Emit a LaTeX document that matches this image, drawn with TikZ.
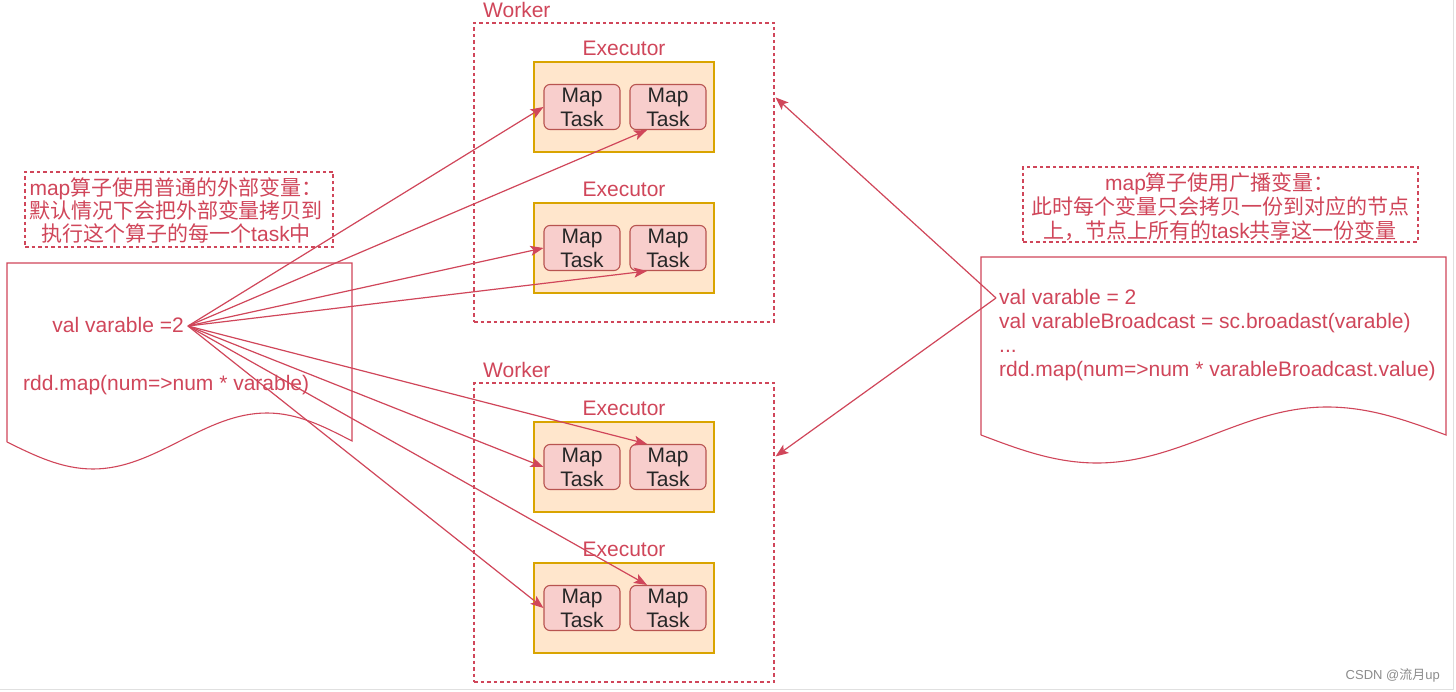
\documentclass[tikz,border=0pt]{standalone}
\usepackage{fontspec}
\setmainfont{Liberation Sans}
\newfontfamily\cjk{Noto Sans CJK SC}
\usetikzlibrary{arrows.meta,calc}
\definecolor{rd}{RGB}{208,70,90}
\definecolor{taskfill}{HTML}{F8CECC}
\definecolor{taskdraw}{HTML}{B85450}
\definecolor{execfill}{HTML}{FFE6CC}
\definecolor{execdraw}{HTML}{D9A400}
\begin{document}
\begin{tikzpicture}[x=1pt,y=-1pt,
  txt/.style={font=\fontsize{21}{24}\selectfont, text=rd, inner sep=0pt},
  dashbox/.style={draw=rd, line width=1.1pt, dash pattern=on 3.5pt off 3pt},
  taskbox/.style={draw=taskdraw, fill=taskfill, line width=1.1pt, rounded corners=6pt,
    minimum width=76pt, minimum height=45pt, inner sep=0pt, align=center,
    font=\fontsize{21}{24}\selectfont, text=black!85},
  execbox/.style={draw=execdraw, fill=execfill, line width=1.1pt,
    minimum width=180pt, minimum height=90pt, inner sep=0pt},
  docline/.style={draw=rd, line width=1.1pt},
  arr/.style={draw=rd, line width=1.2pt, -{Stealth[length=13pt,width=10pt,inset=3pt]}}
]
\useasboundingbox (0,0) rectangle (1456,692);
\fill[white] (0,0) rectangle (1456,692);
\draw[black!12, line width=1pt] (1453,0) -- (1453,689) -- (0,689);

% Workers
\node[dashbox, minimum width=300pt, minimum height=299pt, inner sep=0pt] (w1) at (624,172.5) {};
\node[txt, anchor=west] (w1l) at (483,10) {Worker};
\node[dashbox, minimum width=300pt, minimum height=299pt, inner sep=0pt] (w2) at (624,532.5) {};
\node[txt, anchor=west] (w2l) at (483,370) {Worker};

% Executors
\foreach \n/\y in {e1/107,e2/248,e3/467,e4/608}{
  \node[execbox] (\n) at (624,\y) {};
  \node[txt] (\n l) at ($(\n.north)+(0,-13)$) {Executor};
  \node[taskbox] (\n a) at (582,\y) {Map\\Task};
  \node[taskbox] (\n b) at (668,\y) {Map\\Task};
}

% Left note
\node[dashbox, minimum width=308pt, minimum height=75pt] (ln) at (179,209.5) {};
\node[txt, align=center, font=\fontsize{21}{23}\selectfont] (lnt) at (176,210) {map{\cjk 算子使用普通的外部变量：}\\{\cjk 默认情况下会把外部变量拷贝到}\\{\cjk 执行这个算子的每一个}task{\cjk 中}};

% Left document
\draw[docline] (7,442) -- (7,263) -- (352,263) -- (352,441)
  sin (267,413) cos (180,441) sin (93,469) cos (7,442);
\node[txt, anchor=east] (lv) at (184,325) {val varable =2};
\node[txt, anchor=west] (lm) at (23,385) {rdd.map(num=>num * varable)};
\coordinate (ls) at (188,326);

% Right note
\node[dashbox, minimum width=395pt, minimum height=75pt] (rn) at (1220.5,204.5) {};
\node[txt, align=center] (rnt) at (1220,207) {map{\cjk 算子使用广播变量：}\\{\cjk 此时每个变量只会拷贝一份到对应的节点}\\{\cjk 上，节点上所有的}task{\cjk 共享这一份变量}};

% Right document
\draw[docline] (981,435) -- (981,257) -- (1446,257) -- (1446,435)
  sin (1327,407) cos (1212,435) sin (1097,463) cos (981,435);
\node[txt, anchor=north west, align=left] (rc) at (999,289) {val varable = 2\\val varableBroadcast = sc.broadast(varable)\\...\\rdd.map(num=>num * varableBroadcast.value)};
\coordinate (rs) at (996,298);

% Arrows from left
\draw[arr] (ls) -- (e1a.west);
\draw[arr] (ls) -- ($(e1b.south)+(-21,0)$);
\draw[arr] (ls) -- (e2a.west);
\draw[arr] (ls) -- ($(e2b.south)+(-21,0)$);
\draw[arr] (ls) -- ($(e3b.north)+(-21,0)$);
\draw[arr] (ls) -- (e3a.west);
\draw[arr] (ls) -- ($(e4b.north)+(-21,0)$);
\draw[arr] (ls) -- (e4a.west);

% Arrows from right
\draw[arr] (rs) -- ($(w1.north east)+(1,75)$);
\draw[arr] (rs) -- ($(w2.north east)+(1,74)$);

% Watermark
\node[font=\fontsize{13}{15}\selectfont, text=black!45, anchor=east, inner sep=0pt] (wm) at (1440,675) {CSDN @{\cjk 流月}up};
\end{tikzpicture}
\end{document}
